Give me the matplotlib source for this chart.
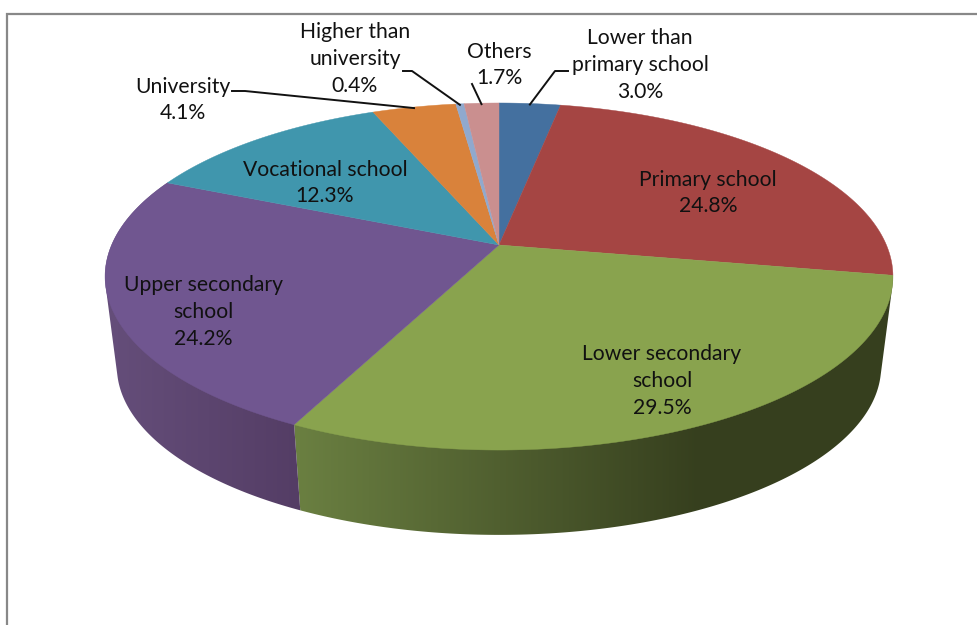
import numpy as np
import matplotlib
matplotlib.use("Agg")
import matplotlib.pyplot as plt
from matplotlib.patches import Polygon

categories = ["Lower than\nprimary school", "Primary school", "Lower secondary\nschool",
              "Upper secondary\nschool", "Vocational school", "University",
              "Higher than\nuniversity", "Others"]
shares = [3.0, 24.8, 29.5, 24.2, 12.3, 4.1, 0.4, 1.7]
colors = ["#44709f", "#a54543", "#89a34e", "#705690", "#4096ad", "#d9823b", "#90a9ce", "#ca8f8f"]
# wall shade at left / right of the visible wall, for the two slices that show one
wall_shades = {2: ("#6a7f41", "#363f1e"), 3: ("#644d79", "#543d65")}
wall_span = {2: (300, 700), 3: (118, 300)}
label_pos = [(640, 65), (708, 193), (662, 381), (203, 312), (325, 183), (183, 100), (355, 59), (499, 65)]
leaders = {0: [(568, 71), (555, 71)], 5: [(232, 91), (245, 91)], 6: [(403, 71), (412, 71)], 7: [(472, 84)]}

plt.rcParams["font.family"] = ["Lato", "DejaVu Sans"]
fig = plt.figure(figsize=(9.78, 6.25), dpi=100, facecolor="white")
ax = fig.add_axes([0, 0, 1, 1])
ax.axis("off")

K = 0.1816
CX = 499


def project(frac, apex_y, scale):
    """Perspective projection of a point on the pie rim; frac = cumulative share 0..1, clockwise from top."""
    th = 2 * np.pi * np.asarray(frac)
    X, Y = np.sin(th), np.cos(th)
    w = 1 + K * Y
    return CX + scale * 387.4 * X / w, apex_y - scale * 167.8 * Y / w


def convex_hull(points):
    pts = sorted(set(map(tuple, points)))

    def half(seq):
        out = []
        for p in seq:
            while len(out) >= 2 and ((out[-1][0] - out[-2][0]) * (p[1] - out[-2][1])
                                     - (out[-1][1] - out[-2][1]) * (p[0] - out[-2][0])) <= 0:
                out.pop()
            out.append(p)
        return out[:-1]

    return np.array(half(pts) + half(pts[::-1]))


TOP = (245, 1.0)
BOT = (336, 0.97)
edges = np.cumsum([0] + shares) / 100.0


def hex_rgb(c):
    return np.array(matplotlib.colors.to_rgb(c))


# side walls: a left-to-right shade clipped to the wall outline
for i, (c_left, c_right) in wall_shades.items():
    f = np.linspace(edges[i], edges[i + 1], 240)
    xt, yt = project(f, *TOP)
    xb, yb = project(f, *BOT)
    outline = convex_hull(np.column_stack([np.r_[xt, xb], np.r_[yt, yb]]))
    x_l, x_r = wall_span[i]
    xs = np.arange(0, 979)
    t = np.clip((xs + 0.5 - x_l) / (x_r - x_l), 0, 1)[None, :, None]
    grad = (1 - t) * hex_rgb(c_left) + t * hex_rgb(c_right)
    clip = Polygon(outline, closed=True, transform=ax.transData)
    im = ax.imshow(grad, extent=(0, 979, 625, 0), aspect="auto", zorder=2 + (i == 3) * 0.1,
                   interpolation="nearest")
    im.set_clip_path(clip)

ax.set_xlim(0, 978)
ax.set_ylim(625, 0)

# top faces
for i, c in enumerate(colors):
    f = np.linspace(edges[i], edges[i + 1], 200)
    x, y = project(f, *TOP)
    ax.fill(np.r_[CX, x], np.r_[TOP[0], y], facecolor=c, edgecolor=c, linewidth=0.3, zorder=3)

# leader lines
for i, pts in leaders.items():
    mid = 0.5 * (edges[i] + edges[i + 1])
    ex, ey = project(mid, *TOP)
    xs = [p[0] for p in pts] + [float(ex)]
    ys = [p[1] for p in pts] + [float(ey) + 1]
    ax.plot(xs, ys, color="#111111", lw=1.4, zorder=4, solid_joinstyle="round")

# labels
for i, (name, val) in enumerate(zip(categories, shares)):
    ax.text(label_pos[i][0], label_pos[i][1], f"{name}\n{val:.1f}%", ha="center", va="center",
            fontsize=15.2, color="#111111", linespacing=1.42, zorder=5)

# chart frame
ax.plot([7, 7, 978], [625, 14, 14], color="#888888", lw=1.6, zorder=1, solid_joinstyle="miter")

fig.savefig("out.png", dpi=100, facecolor="white")
